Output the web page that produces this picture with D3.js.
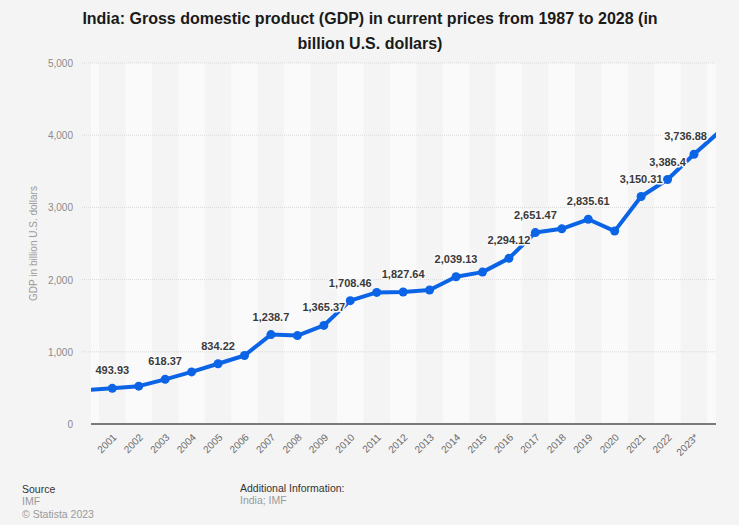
<!DOCTYPE html>
<html>
<head>
<meta charset="utf-8">
<script src="https://d3js.org/d3.v7.min.js"></script>
<style>
  body { margin: 0; padding: 0; background: #f4f4f4; }
  svg { display: block; font-family: "Liberation Sans", Arial, sans-serif; }
  .title { font-size: 16px; font-weight: bold; fill: #1a1a1a; }
  .ytick { font-size: 10px; fill: #8a8a8a; }
  .xtick { font-size: 10px; fill: #6a6a6a; }
  .ytitle { font-size: 10px; fill: #9a9a9a; }
  .dlabel { font-size: 11px; font-weight: bold; fill: #3a3a3a; stroke: #fafafa; stroke-width: 3px; paint-order: stroke; stroke-linejoin: round; }
  .foot-h { font-size: 10.5px; fill: #333; }
  .foot { font-size: 10.5px; fill: #9a9a9a; }
</style>
</head>
<body>
<div id="chart"></div>
<script>
// years shown (2000 and 2024 are only partly visible at the edges)
var years = [2000, 2001, 2002, 2003, 2004, 2005, 2006, 2007, 2008, 2009, 2010, 2011,
             2012, 2013, 2014, 2015, 2016, 2017, 2018, 2019, 2020, 2021, 2022, 2023, 2024];
var yearLabels = ["2000", "2001", "2002", "2003", "2004", "2005", "2006", "2007", "2008", "2009", "2010", "2011",
             "2012", "2013", "2014", "2015", "2016", "2017", "2018", "2019", "2020", "2021", "2022", "2023*", "2024*"];
// GDP in billion U.S. dollars
var gdp = [468.4, 493.93, 523.77, 618.37, 721.59, 834.22, 949.12, 1238.7, 1224.1, 1365.37, 1708.46, 1823.05,
           1827.64, 1856.72, 2039.13, 2103.59, 2294.12, 2651.47, 2702.93, 2835.61, 2671.6, 3150.31, 3386.4, 3736.88, 4060];
// which points carry a value label
var labelled = [2001, 2003, 2005, 2007, 2009, 2010, 2012, 2014, 2016, 2017, 2019, 2021, 2022, 2023];
var yTicks = [0, 1000, 2000, 3000, 4000, 5000];

var width = 739, height = 525;
var plotLeft = 91, plotRight = 716, plotTop = 63, plotBottom = 424;

var svg = d3.select("#chart").append("svg")
    .attr("width", width)
    .attr("height", height);

var x = d3.scaleLinear().domain([2001, 2023]).range([112.3, 694]);
var y = d3.scaleLinear().domain([0, 5000]).range([plotBottom, plotTop]);

var data = years.map(function(d, i) { return { year: d, label: yearLabels[i], value: gdp[i] }; });
var visible = data.filter(function(d) { return d.year >= 2001 && d.year <= 2023; });

// title
svg.append("text").attr("class", "title").attr("x", 370).attr("y", 24)
    .attr("text-anchor", "middle")
    .text("India: Gross domestic product (GDP) in current prices from 1987 to 2028 (in");
svg.append("text").attr("class", "title").attr("x", 370).attr("y", 49)
    .attr("text-anchor", "middle")
    .text("billion U.S. dollars)");

svg.append("clipPath").attr("id", "plotclip")
  .append("rect")
    .attr("x", plotLeft).attr("y", plotTop - 20)
    .attr("width", plotRight - plotLeft).attr("height", plotBottom - plotTop + 20);

// alternating column bands
svg.append("g").attr("clip-path", "url(#plotclip)")
  .selectAll("rect")
  .data(data.filter(function(d) { return d.year % 2 === 0; }))
  .enter().append("rect")
    .attr("x", function(d) { return x(d.year - 0.5); })
    .attr("y", plotTop)
    .attr("width", function(d) { return x(d.year + 0.5) - x(d.year - 0.5); })
    .attr("height", plotBottom - plotTop)
    .attr("fill", "#fafafa");

// grid
svg.append("g").selectAll("line")
  .data(yTicks.filter(function(t) { return t > 0; }))
  .enter().append("line")
    .attr("x1", plotLeft - 9).attr("x2", plotRight)
    .attr("y1", function(d) { return y(d); })
    .attr("y2", function(d) { return y(d); })
    .attr("stroke", "#d9d9d9")
    .attr("stroke-width", 1)
    .attr("stroke-dasharray", "1,1");

// y tick labels
svg.append("g").selectAll("text")
  .data(yTicks)
  .enter().append("text")
    .attr("class", "ytick")
    .attr("x", 73)
    .attr("y", function(d) { return y(d) + 4; })
    .attr("text-anchor", "end")
    .text(function(d) { return d3.format(",")(d); });

svg.append("text").attr("class", "ytitle")
    .attr("transform", "translate(37," + y(2500) + ") rotate(-90)")
    .attr("text-anchor", "middle")
    .text("GDP in billion U.S. dollars");

// baseline
svg.append("line")
    .attr("x1", plotLeft).attr("x2", plotRight)
    .attr("y1", y(0)).attr("y2", y(0))
    .attr("stroke", "#7a7a7a").attr("stroke-width", 2);

// x tick labels
svg.append("g").selectAll("text")
  .data(visible)
  .enter().append("text")
    .attr("class", "xtick")
    .attr("text-anchor", "end")
    .attr("transform", function(d) { return "translate(" + (x(d.year) + 5) + "," + (y(0) + 14) + ") rotate(-45)"; })
    .text(function(d) { return d.label; });

// line + points
var line = d3.line()
    .x(function(d) { return x(d.year); })
    .y(function(d) { return y(d.value); });

var plot = svg.append("g").attr("clip-path", "url(#plotclip)");
plot.append("path")
    .datum(data)
    .attr("d", line)
    .attr("fill", "none")
    .attr("stroke", "#0b64e6")
    .attr("stroke-width", 4)
    .attr("stroke-linejoin", "round");

plot.selectAll("circle")
  .data(visible)
  .enter().append("circle")
    .attr("cx", function(d) { return x(d.year); })
    .attr("cy", function(d) { return y(d.value); })
    .attr("r", 4.5)
    .attr("fill", "#0b64e6");

// value labels
svg.append("g").selectAll("text")
  .data(visible.filter(function(d) { return labelled.indexOf(d.year) >= 0; }))
  .enter().append("text")
    .attr("class", "dlabel")
    .attr("x", function(d) { return x(d.year); })
    .attr("y", function(d) { return y(d.value) - 14; })
    .attr("text-anchor", "middle")
    .text(function(d) { return d3.format(",")(d.value); })
    .each(function() {
      // keep labels inside the plot on the right
      var bb = this.getBBox();
      var over = bb.x + bb.width - (plotRight - 9);
      if (over > 0) d3.select(this).attr("x", +d3.select(this).attr("x") - over);
    });

// footer
svg.append("text").attr("class", "foot-h").attr("x", 22).attr("y", 493).text("Source");
svg.append("text").attr("class", "foot").attr("x", 22).attr("y", 505).text("IMF");
svg.append("text").attr("class", "foot").attr("x", 22).attr("y", 518).text("© Statista 2023");
svg.append("text").attr("class", "foot-h").attr("x", 240).attr("y", 492).text("Additional Information:");
svg.append("text").attr("class", "foot").attr("x", 240).attr("y", 504).text("India; IMF");
</script>
</body>
</html>
